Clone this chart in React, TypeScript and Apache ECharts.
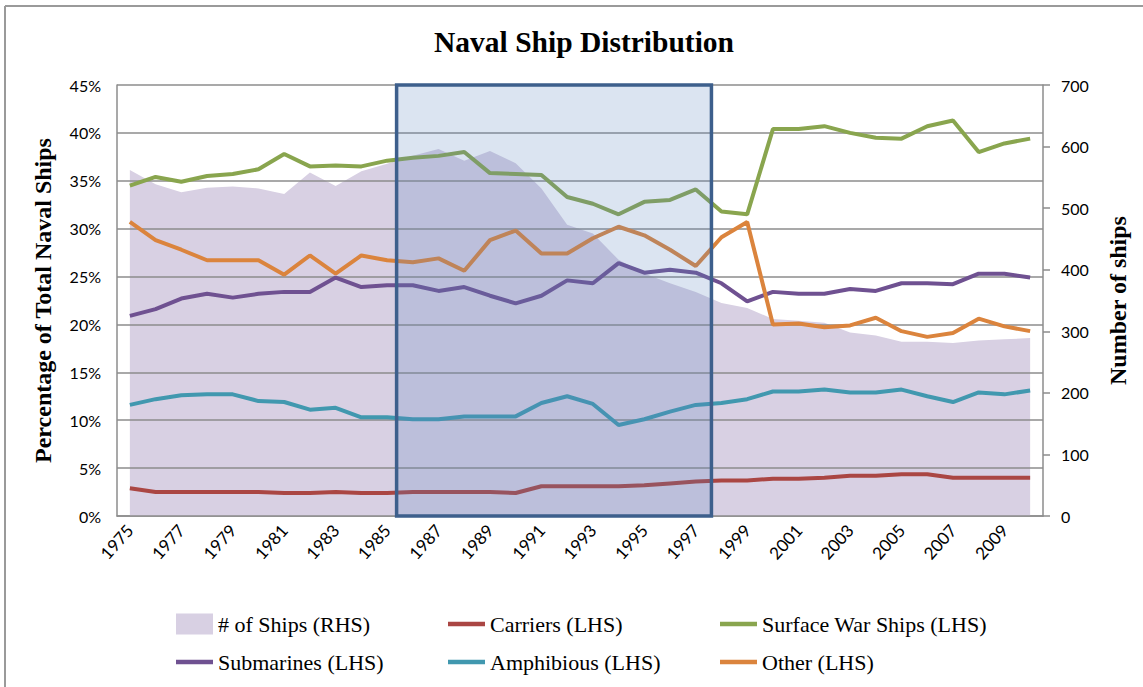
import React, { useEffect, useRef } from "react";
import * as echarts from "echarts";

const years: string[] = [];
for (let y = 1975; y <= 2010; y++) years.push(String(y));

const ships = [562, 539, 526, 533, 535, 532, 523, 558, 536, 560, 572, 585,
  596, 577, 593, 573, 532, 473, 459, 416, 394, 378, 364,
  346, 338, 320, 317, 314, 298, 293, 283, 283, 281, 285, 287, 289];
const carriers = [2.9, 2.5, 2.5, 2.5, 2.5, 2.5, 2.4, 2.4, 2.5, 2.4, 2.4, 2.5,
  2.5, 2.5, 2.5, 2.4, 3.1, 3.1, 3.1, 3.1, 3.2, 3.4, 3.6,
  3.7, 3.7, 3.9, 3.9, 4.0, 4.2, 4.2, 4.35, 4.35, 4.0, 4.0, 4.0, 4.0];
const surface = [34.5, 35.4, 34.9, 35.5, 35.7, 36.2, 37.8, 36.5, 36.6, 36.5, 37.1, 37.4,
  37.6, 38.0, 35.8, 35.7, 35.6, 33.3, 32.6, 31.5, 32.8, 33.0, 34.1,
  31.8, 31.5, 40.4, 40.4, 40.7, 40.0, 39.5, 39.4, 40.7, 41.3, 38.0, 38.9, 39.4];
const submarines = [20.9, 21.6, 22.7, 23.2, 22.8, 23.2, 23.4, 23.4, 24.9, 23.9, 24.1, 24.1,
  23.5, 23.9, 23.0, 22.2, 23.0, 24.6, 24.3, 26.4, 25.4, 25.7, 25.4,
  24.3, 22.4, 23.4, 23.2, 23.2, 23.7, 23.5, 24.3, 24.3, 24.2, 25.3, 25.3, 24.9];
const amphibious = [11.6, 12.2, 12.6, 12.7, 12.7, 12.0, 11.9, 11.1, 11.3, 10.3, 10.3, 10.1,
  10.1, 10.4, 10.4, 10.4, 11.8, 12.5, 11.7, 9.5, 10.1, 10.9, 11.6,
  11.8, 12.2, 13.0, 13.0, 13.2, 12.9, 12.9, 13.2, 12.5, 11.9, 12.9, 12.7, 13.1];
const other = [30.7, 28.8, 27.8, 26.7, 26.7, 26.7, 25.2, 27.2, 25.3, 27.2, 26.7, 26.5,
  26.9, 25.6, 28.8, 29.8, 27.4, 27.4, 29.0, 30.2, 29.3, 27.8, 26.1,
  29.1, 30.7, 20.0, 20.1, 19.7, 19.9, 20.7, 19.3, 18.7, 19.1, 20.6, 19.8, 19.3];

// highlighted period (fractional years)
const highlightRange = [1985.37, 1997.61];

const SERIF = "'Liberation Serif', 'Times New Roman', serif";
const SANS = "Lato, 'Open Sans', sans-serif";

const C = {
  ships: "#d8d0e3",
  carriers: "#aa4643",
  surface: "#89a54e",
  submarines: "#6f5191",
  amphibious: "#4198af",
  other: "#db843d",
};

const LINE_ICON = "path://M0,0H40V5H0Z";

export default function App() {
  const ref = useRef<HTMLDivElement>(null);
  useEffect(() => {
    if (!ref.current) return;
    const chart = echarts.init(ref.current, null, { renderer: "svg" });
    const lineS = (name: string, data: number[], color: string) => ({
      name,
      type: "line",
      data,
      yAxisIndex: 0,
      symbol: "none",
      z: 5,
      lineStyle: { color, width: 4 },
      itemStyle: { color },
    });
    const legendBase = {
      orient: "vertical",
      top: 613,
      padding: 0,
      itemGap: 16,
      itemWidth: 37,
      itemHeight: 21,
      symbolKeepAspect: true,
      textStyle: { fontFamily: SERIF, fontSize: 22, color: "#000" },
      selectedMode: false,
    };
    const li = (name: string) => ({ name, icon: LINE_ICON });
    chart.setOption({
      animation: false,
      backgroundColor: "#fff",
      title: {
        text: "Naval Ship Distribution",
        left: 579,
        textAlign: "center",
        top: 22,
        textStyle: { fontFamily: SERIF, fontSize: 29.5, fontWeight: "bold", color: "#000" },
      },
      grid: { left: 117, right: 100, top: 85, bottom: 171 },
      legend: [
        { ...legendBase, left: 176, data: [{ name: "# of Ships (RHS)", icon: "rect" }, li("Submarines (LHS)")] },
        { ...legendBase, left: 448, data: [li("Carriers (LHS)"), li("Amphibious (LHS)")] },
        { ...legendBase, left: 720, data: [li("Surface War Ships (LHS)"), li("Other (LHS)")] },
      ],
      xAxis: {
        type: "category",
        data: years,
        boundaryGap: true,
        axisLine: { show: true, lineStyle: { color: "#8c8c8c", width: 1.5 } },
        axisTick: { show: false },
        axisLabel: {
          interval: 1,
          rotate: 48,
          margin: 11,
          fontFamily: SANS,
          fontSize: 17,
          color: "#000",
        },
      },
      yAxis: [
        {
          type: "value",
          min: 0,
          max: 45,
          interval: 5,
          z: 3,
          name: "Percentage of Total Naval Ships",
          nameLocation: "middle",
          nameGap: 62,
          nameTextStyle: { fontFamily: SERIF, fontSize: 24, fontWeight: "bold", color: "#000" },
          axisLine: { show: true, lineStyle: { color: "#8c8c8c", width: 1.5 } },
          axisTick: { show: false },
          axisLabel: { formatter: "{value}%", margin: 16, fontFamily: SANS, fontSize: 16, color: "#000" },
          splitLine: { show: true, lineStyle: { color: "#8c8c8c", width: 1.5 } },
        },
        {
          type: "value",
          min: 0,
          max: 700,
          interval: 100,
          position: "right",
          z: 3,
          name: "Number of ships",
          nameLocation: "middle",
          nameRotate: 90,
          nameGap: 63,
          nameTextStyle: { fontFamily: SERIF, fontSize: 24, fontWeight: "bold", color: "#000" },
          axisLine: { show: true, lineStyle: { color: "#8c8c8c", width: 1.5 } },
          axisTick: { show: true, inside: false, length: 7, lineStyle: { color: "#8c8c8c", width: 1.5 } },
          axisLabel: { margin: 18, fontFamily: SANS, fontSize: 16, color: "#000" },
          splitLine: { show: false },
        },
      ],
      series: [
        {
          name: "# of Ships (RHS)",
          type: "line",
          data: ships,
          yAxisIndex: 1,
          symbol: "none",
          z: 1,
          lineStyle: { width: 0, color: C.ships },
          itemStyle: { color: C.ships },
          areaStyle: { color: C.ships, opacity: 1 },
        },
        lineS("Carriers (LHS)", carriers, C.carriers),
        lineS("Surface War Ships (LHS)", surface, C.surface),
        lineS("Submarines (LHS)", submarines, C.submarines),
        lineS("Amphibious (LHS)", amphibious, C.amphibious),
        lineS("Other (LHS)", other, C.other),
      ],
    });

    const xAt = (yr: number) => {
      const i = Math.floor(yr - 1975);
      const f = yr - 1975 - i;
      const a = chart.convertToPixel({ xAxisIndex: 0 }, i) as number;
      const b = chart.convertToPixel({ xAxisIndex: 0 }, i + 1) as number;
      return a + (b - a) * f;
    };
    const x1 = xAt(highlightRange[0]);
    const x2 = xAt(highlightRange[1]);
    const yTop = chart.convertToPixel({ yAxisIndex: 0 }, 45) as number;
    const yBot = chart.convertToPixel({ yAxisIndex: 0 }, 0) as number;

    chart.setOption({
      graphic: [
        {
          type: "rect",
          z: 100,
          shape: { x: x1, y: yTop, width: x2 - x1, height: yBot - yTop },
          style: { fill: "rgba(90,130,190,0.22)", stroke: "#3d5f8c", lineWidth: 3.5 },
        },
        {
          type: "line",
          z: 100,
          shape: { x1: 5, y1: 6, x2: 1143, y2: 6 },
          style: { stroke: "#9a9a9a", lineWidth: 2 },
        },
        {
          type: "line",
          z: 100,
          shape: { x1: 5, y1: 6, x2: 5, y2: 687 },
          style: { stroke: "#9a9a9a", lineWidth: 2 },
        },
      ],
    });

    return () => chart.dispose();
  }, []);
  return (
    <div
      ref={ref}
      style={{ position: "absolute", left: 0, top: 0, width: 1143, height: 687, background: "#fff" }}
    />
  );
}
